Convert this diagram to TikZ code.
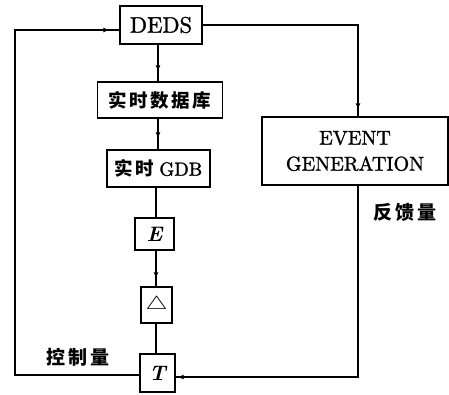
\documentclass[tikz,border=0pt]{standalone}
\usepackage{amsmath,amssymb,graphicx}
\usepackage{fontspec}
\newfontfamily\cjk[LetterSpace=14]{Noto Sans CJK SC}
\newfontfamily\lmb{lmroman10-regular}[Extension=.otf,FakeBold=1.3]
\newfontfamily\lmbi{lmroman10-bolditalic}[Extension=.otf]
\usetikzlibrary{arrows.meta,decorations.markings}
\tikzset{
  box/.style={draw,line width=1.3pt,inner sep=0pt,font=\lmb\fontsize{20}{22}\selectfont},
  ln/.style={line width=1.3pt},
  thk/.style={line width=2.4pt},
  arr/.style={postaction={decorate},decoration={markings,mark=at position #1 with {\arrow{Latex[length=6pt,width=5pt]}}}},
  lbl/.style={font=\cjk\bfseries\fontsize{19}{20}\selectfont}
}
\begin{document}
\begin{tikzpicture}[x=1pt,y=-1pt]
\useasboundingbox (0,0) rectangle (449,394);
\node[box,minimum width=82pt,minimum height=38pt,font=\lmb\fontsize{22.5}{24}\selectfont] (deds) at (161,25) {DEDS};
\node[box,minimum width=125pt,minimum height=36pt] (db) at (160,100) {\cjk\bfseries\fontsize{18.5}{20}\selectfont 实时数据库\hspace{-2pt}};
\node[box,minimum width=103pt,minimum height=37pt] (gdb) at (158.5,168.5) {\cjk\bfseries\fontsize{18.5}{20}\selectfont 实时\hspace{5pt}\lmb\fontsize{19}{20}\selectfont GDB};
\node[box,minimum width=186pt,minimum height=68pt,align=center] (ev) at (355,151) {EVENT\\[4pt]GENERATION};
\node[box,minimum width=39pt,minimum height=32pt] (e) at (154.5,234) {\lmbi\fontsize{21}{22}\selectfont E};
\node[box,minimum width=31pt,minimum height=36pt] (tri) at (156.5,305) {\resizebox{22pt}{13pt}{$\triangle$}};
\node[box,minimum width=35pt,minimum height=38pt] (t) at (157.5,373) {\lmbi\fontsize{21}{22}\selectfont T};
\node[lbl] (fk) at (405,212) {反馈量};
\node[lbl] (kz) at (78,357) {控制量};
\coordinate (lc) at (15,375);
\coordinate (lt) at (15,30);
\coordinate (rt) at (358,25);
\coordinate (rb) at (358,377);
% vertical chain
\draw[ln,arr=-10pt] (deds.south -| 158,0) -- (db.north -| 158,0);
\draw[ln,arr=-11pt] (db.south -| 158,0) -- (gdb.north -| 158,0);
\draw[thk] (gdb.south -| 156,0) -- (e.north -| 156,0);
\draw[ln,arr=-8pt] (e.south -| 156,0) -- (tri.north -| 156,0);
\draw[thk] (tri.south -| 156,0) -- (t.north -| 156,0);
% right branch
\draw[ln,arr=-7pt] (deds.east |- rt) -- (rt) -- (ev.north -| rt);
\draw[ln,arr=-2pt] (ev.south -| rb) -- (rb) -- (t.east |- rb);
% left loop
\draw[ln,arr=-10pt] (t.west |- lc) -- (lc) -- (lt) -- (deds.west |- lt);
\end{tikzpicture}
\end{document}
